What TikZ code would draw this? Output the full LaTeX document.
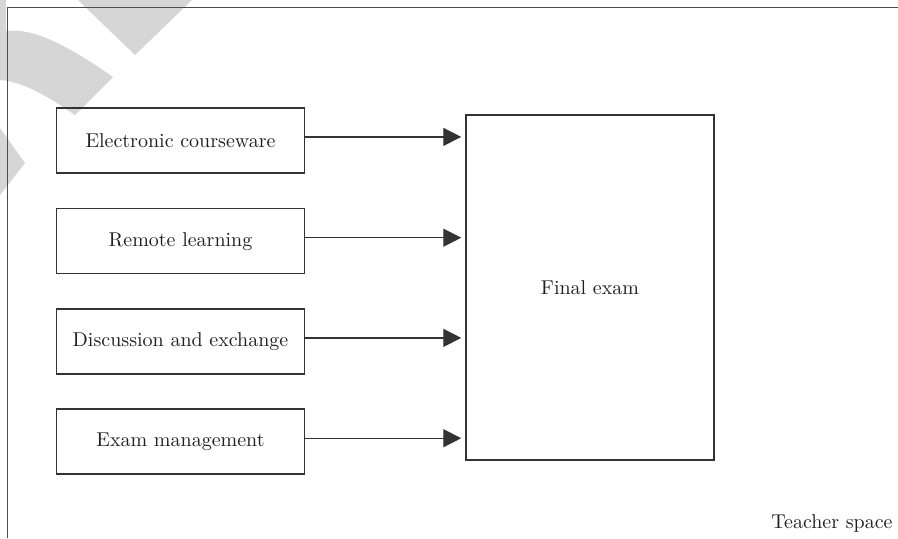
\documentclass[tikz,border=0pt]{standalone}
\usetikzlibrary{arrows.meta,calc}
\definecolor{wm}{gray}{0.84}
\definecolor{ln}{gray}{0.2}
\definecolor{fr}{gray}{0.3}
\definecolor{tx}{gray}{0.12}
\begin{document}
\begin{tikzpicture}[x=0.5pt,y=-0.5pt,
  srcbox/.style={draw=ln,line width=0.75pt,minimum width=124.2pt,minimum height=32.5pt,inner sep=0pt,text=tx,font=\fontsize{10}{12}\selectfont},
  finbox/.style={draw=ln,line width=0.75pt,minimum width=124pt,minimum height=172.5pt,inner sep=0pt,text=tx,font=\fontsize{10}{12}\selectfont},
  link/.style={draw=ln,line width=0.7pt,-{Triangle[length=9pt,width=9pt]},shorten >=2pt}]
\useasboundingbox (0,0) rectangle (898,538);
% watermark
\fill[wm] (78,0) -- (192,0) -- (135,55) -- cycle;
\fill[wm] (0,0) -- (6,0) -- (6,31) .. controls (30,28) and (60,40) .. (113,77) -- (75,115) .. controls (50,98) and (25,82) .. (0,80) -- cycle;
\fill[wm] (0,128) -- (25,163) -- (0,195) -- cycle;
% frame
\draw[fr,line width=0.75pt] (7.5,538) -- (7.5,7.5) -- (898,7.5);
% nodes
\node[srcbox] (b1) at (180.5,140.4) {Electronic courseware};
\node[srcbox] (b2) at (180.5,241.2) {Remote learning};
\node[srcbox] (b3) at (180.5,341.4) {Discussion and exchange};
\node[srcbox] (b4) at (180.5,441.7) {Exam management};
\node[finbox] (fin) at (590,287.5) {Final exam};
\node[anchor=base east,inner sep=0pt,text=tx,font=\fontsize{10}{12}\selectfont] (ts) at (893,528) {Teacher space};
% connectors
\foreach \i in {1,...,4}{
  \coordinate (s\i) at ([yshift=1.75pt]b\i.east);
  \draw[link] (s\i) -- (s\i -| fin.west);
}
\end{tikzpicture}
\end{document}
